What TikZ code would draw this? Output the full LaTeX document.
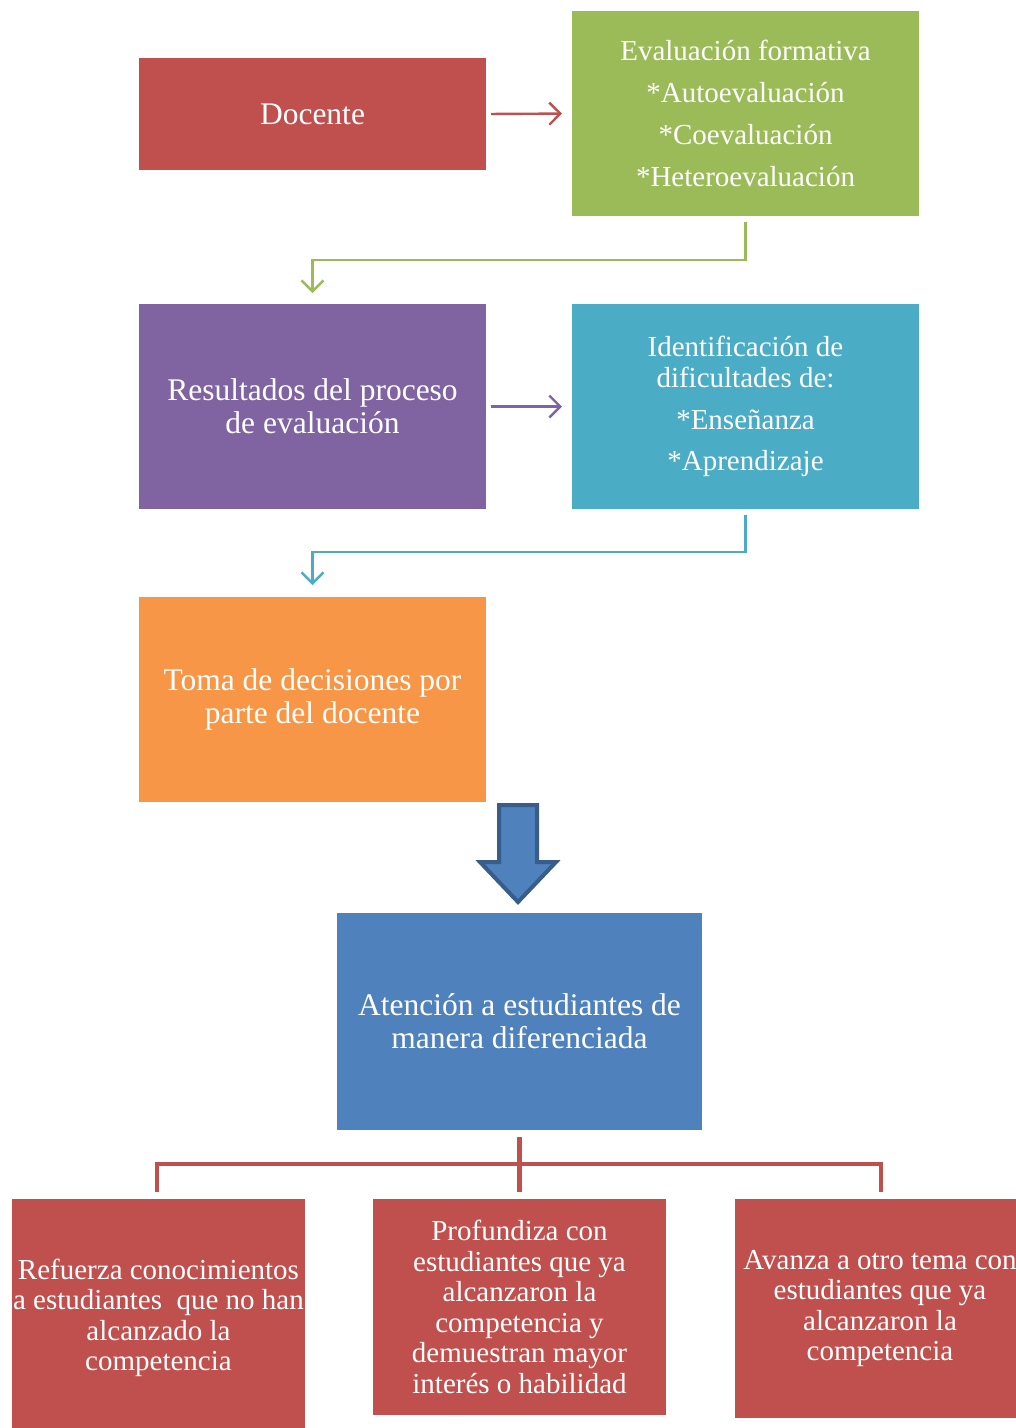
\documentclass[tikz,border=0pt]{standalone}
\usepackage{fontspec}
\setmainfont{Liberation Serif}
\usetikzlibrary{arrows.meta,calc}
\definecolor{cred}{HTML}{C0504D}
\definecolor{cgreen}{HTML}{9BBB59}
\definecolor{cpurple}{HTML}{8064A2}
\definecolor{ccyan}{HTML}{4BACC6}
\definecolor{corange}{HTML}{F79646}
\definecolor{cblue}{HTML}{4F81BD}
\definecolor{cblueedge}{HTML}{385D8A}
\tikzset{
  box/.style={rectangle, inner sep=0pt, outer sep=0pt, text=white, align=center,
    minimum width=347pt, minimum height=205pt},
  bigtxt/.style={font=\fontsize{31.5}{33}\selectfont},
  midtxt/.style={font=\fontsize{29}{42}\selectfont},
  smalltxt/.style={font=\fontsize{29}{30.5}\selectfont},
  conn/.style={line width=2.4pt, -{Straight Barb[length=11pt,width=22pt,line width=2.4pt]}},
}
\begin{document}
\begin{tikzpicture}[x=1pt,y=-1pt]
\useasboundingbox (0,0) rectangle (1016,1428);
% boxes
\node[box, fill=cred, bigtxt, minimum height=112pt] (doc) at (312.5,114) {Docente};
\node[box, fill=cgreen, midtxt] (eval) at (745.5,113.5)
  {Evaluación formativa\\*Autoevaluación\\*Coevaluación\\*Heteroevaluación};
\node[box, fill=cpurple, bigtxt] (res) at (312.5,406.5)
  {Resultados del proceso\\de evaluación};
\node[box, fill=ccyan, font=\fontsize{29}{31}\selectfont] (ident) at (745.5,406.5)
  {Identificación de\\dificultades de:\\[11pt]*Enseñanza\\[10pt]*Aprendizaje};
\node[box, fill=corange, bigtxt] (toma) at (312.5,699.5)
  {Toma de decisiones por\\parte del docente};
\node[box, fill=cblue, bigtxt, minimum width=365pt, minimum height=217pt] (aten) at (519.5,1021.5)
  {Atención a estudiantes de\\manera diferenciada};
\node[box, fill=cred, smalltxt, minimum width=293pt, minimum height=238pt] (ref) at (158.5,1318)
  {Refuerza conocimientos\\a estudiantes~ que no han\\alcanzado la\\competencia};
\node[box, fill=cred, smalltxt, minimum width=293pt, minimum height=216pt] (prof) at (519.5,1307)
  {Profundiza con\\estudiantes que ya\\alcanzaron la\\competencia y\\demuestran mayor\\interés o habilidad};
\node[box, fill=cred, smalltxt, minimum width=290pt, minimum height=219pt] (avan) at (880,1308.5)
  {Avanza a otro tema con\\estudiantes que ya\\alcanzaron la\\competencia};
% straight arrows
\draw[conn, cred, shorten <=5pt, shorten >=10pt] (doc.east) -- (eval.west);
\draw[conn, cpurple, shorten <=5pt, shorten >=10pt] (res.east) -- (ident.west);
% elbow arrows
\coordinate (g1) at (0,260);
\coordinate (c1) at (0,552);
\draw[conn, cgreen] ([yshift=-6pt]eval.south) -- (eval.south |- g1) -- (res.north |- g1) -- ([yshift=11pt]res.north);
\draw[conn, ccyan] ([yshift=-6pt]ident.south) -- (ident.south |- c1) -- (toma.north |- c1) -- ([yshift=12pt]toma.north);
% block arrow
\draw[line width=4pt, draw=cblueedge, fill=cblue, line join=miter]
  (499,805) -- (537,805) -- (537,862) -- (556,862) -- (518,902) -- (480,862) -- (499,862) -- cycle;
% tree connector
\coordinate (t2) at (0,1192);
\draw[cred, line width=4.5pt] ([yshift=-7pt]aten.south) -- (aten.south |- t2);
\draw[cred, line width=4.5pt] (157,1192) -- (157,1164) -- (881,1164) -- (881,1192);
\end{tikzpicture}
\end{document}
